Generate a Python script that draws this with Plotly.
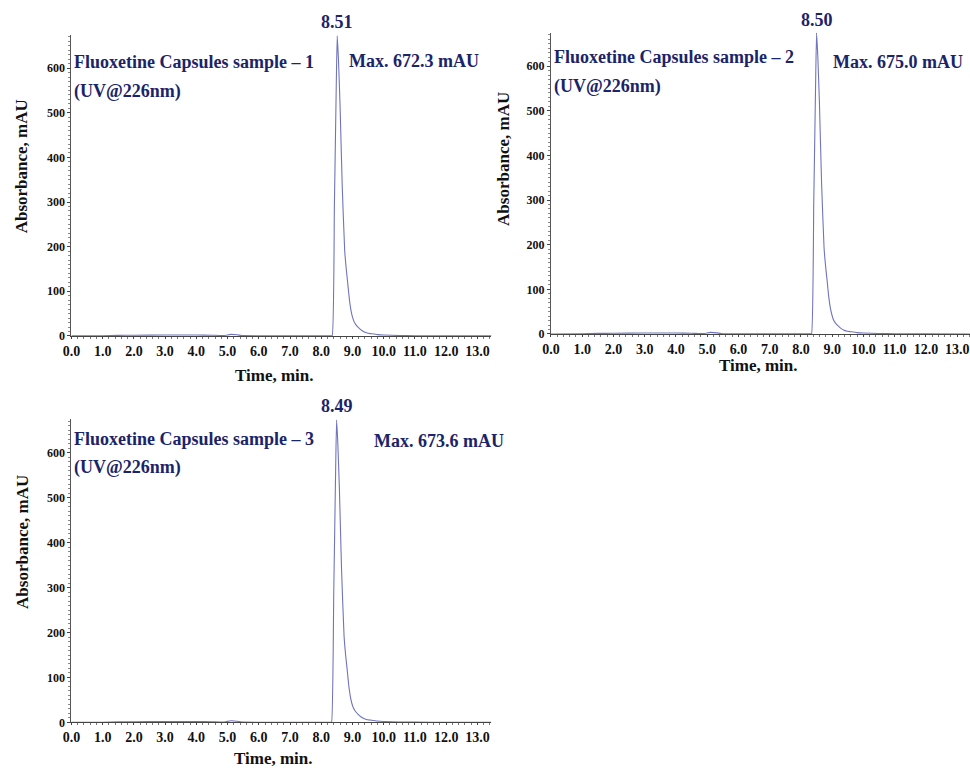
import plotly.graph_objects as go

W, H = 970, 772

# ---- data ----
time_1 = [0.0, 1.0, 1.5, 2.0, 3.0, 4.0, 4.5, 4.9, 5.1, 5.3, 5.5, 6.0, 7.0, 8.0, 8.3, 8.35,
          8.42, 8.48, 8.51, 8.55, 8.60, 8.67, 8.75, 8.80, 8.85, 8.90, 8.95, 9.0, 9.05,
          9.1, 9.2, 9.3, 9.4, 9.5, 9.6, 9.8, 10.0, 10.5, 11.0, 12.0, 13.45]
abs_1 = [0.0, 0.3, 1.2, 1.5, 2.0, 2.0, 1.5, 1.0, 3.5, 2.5, 0.6, 0.3, 0.2, 0.2, 0.2, 0.5,
         290, 560, 672.3, 620, 520, 338, 191, 150, 116, 82, 58, 42, 32,
         26, 18, 12, 8, 6, 5, 3, 2, 1, 0.5, 0.2, 0.0]

time_2 = [0.0, 1.0, 1.5, 2.0, 3.0, 4.0, 4.5, 4.9, 5.1, 5.3, 5.5, 6.0, 7.0, 8.0, 8.3, 8.34,
          8.41, 8.47, 8.50, 8.54, 8.59, 8.66, 8.74, 8.79, 8.84, 8.89, 8.94, 8.99, 9.04,
          9.09, 9.19, 9.29, 9.39, 9.49, 9.59, 9.79, 10.0, 10.5, 11.0, 12.0, 13.41]
abs_2 = [0.0, 0.3, 1.2, 1.5, 2.0, 2.0, 1.5, 1.0, 3.5, 2.5, 0.6, 0.3, 0.2, 0.2, 0.2, 0.5,
         292, 563, 675.0, 622, 522, 340, 193, 151, 118, 83, 59, 43, 32,
         26, 18, 12, 8, 6, 5, 3, 2, 1, 0.5, 0.2, 0.0]

time_3 = [0.0, 1.0, 1.5, 2.0, 3.0, 4.0, 4.5, 4.9, 5.1, 5.3, 5.5, 6.0, 7.0, 8.0, 8.3, 8.33,
          8.40, 8.46, 8.49, 8.53, 8.58, 8.65, 8.73, 8.78, 8.83, 8.88, 8.93, 8.98, 9.03,
          9.08, 9.18, 9.28, 9.38, 9.48, 9.58, 9.78, 10.0, 10.5, 11.0, 12.0, 13.45]
abs_3 = [0.0, 0.3, 1.2, 1.5, 2.0, 2.0, 1.5, 1.0, 3.5, 2.5, 0.6, 0.3, 0.2, 0.2, 0.2, 0.5,
         291, 561, 673.6, 621, 521, 339, 192, 150, 117, 82, 58, 42, 32,
         26, 18, 12, 8, 6, 5, 3, 2, 1, 0.5, 0.2, 0.0]

sample_names = ["Fluoxetine Capsules sample \u2013 1",
                "Fluoxetine Capsules sample \u2013 2",
                "Fluoxetine Capsules sample \u2013 3"]
peak_times = [8.51, 8.50, 8.49]
peak_max = [672.3, 675.0, 673.6]
x_ticks = [0, 1, 2, 3, 4, 5, 6, 7, 8, 9, 10, 11, 12, 13]
x_tick_text = ["<b>%.1f</b>" % v for v in x_ticks]
y_ticks = [0, 100, 200, 300, 400, 500, 600]
y_tick_text = ["<b>%d</b>" % v for v in y_ticks]

series = [(time_1, abs_1), (time_2, abs_2), (time_3, abs_3)]

# pixel boxes of each plot area: (left, right, top, bottom)
boxes = [(63, 487, 35, 339), (547, 970, 33, 337), (63, 487, 423, 729)]
x_ranges = [[0, 13.45], [0, 13.41], [0, 13.45]]
y_range = [0, 675]

NAVY = "#1b2468"
LINE = "#6f74bd"
FONT = "Liberation Serif"

# text placement (pixels)
name_y = [63, 58, 443]
uv_y = [92, 87, 472]
max_x = [341, 830, 366]
max_y = [62, 63, 445]
ytitle_xy = [(13, 168), (499, 160), (13, 547)]
xtitle_xy = [(268, 379), (757, 369), (267, 765)]


def px(x):
    return x / W


def py(y):
    return 1 - y / H


def bold(s):
    return "<b>" + s + "</b>"


fig = go.Figure()
annotations = []
for i, ((t, a), (l, r, tp, b)) in enumerate(zip(series, boxes)):
    n = "" if i == 0 else str(i + 1)
    fig.add_trace(go.Scatter(x=t, y=a, mode="lines",
                             line=dict(color=LINE, width=1.1, shape="spline", smoothing=0.4),
                             xaxis="x" + n, yaxis="y" + n, showlegend=False,
                             hoverinfo="x+y"))
    xa = dict(domain=[px(l), px(r)], range=x_ranges[i], anchor="y" + n,
              tickvals=x_ticks, ticktext=x_tick_text, showgrid=False, zeroline=False,
              showline=True, linecolor="#444", linewidth=1.2, ticks="outside",
              ticklen=2, tickcolor="#444",
              minor=dict(ticks="outside", ticklen=2, dtick=0.2, tickcolor="#777"),
              tickfont=dict(family=FONT, size=14, color="#111"))
    ya = dict(domain=[py(b), py(tp)], range=y_range, anchor="x" + n,
              tickvals=y_ticks, ticktext=y_tick_text, showgrid=False, zeroline=False,
              showline=True, linecolor="#555", linewidth=1, ticks="outside",
              ticklen=3, tickcolor="#444",
              minor=dict(ticks="outside", ticklen=2, dtick=10, tickcolor="#888"),
              tickfont=dict(family=FONT, size=12, color="#111"))
    fig.update_layout(**{"xaxis" + n: xa, "yaxis" + n: ya})

    xref = "x" + n
    big = dict(family=FONT, size=18, color=NAVY)
    annotations.append(dict(x=peak_times[i], y=py(tp - 13), xref=xref, yref="paper",
                            text=bold("%.2f" % peak_times[i]), showarrow=False, font=big,
                            xanchor="center", yanchor="middle"))
    annotations.append(dict(x=px(l + 1), y=py(name_y[i]), xref="paper", yref="paper",
                            text=bold(sample_names[i]), showarrow=False, font=big,
                            xanchor="left", yanchor="middle"))
    annotations.append(dict(x=px(l + 1), y=py(uv_y[i]), xref="paper", yref="paper",
                            text=bold("(UV@226nm)"), showarrow=False, font=big,
                            xanchor="left", yanchor="middle"))
    annotations.append(dict(x=px(max_x[i]), y=py(max_y[i]), xref="paper", yref="paper",
                            text=bold("Max. %.1f mAU" % peak_max[i]), showarrow=False,
                            font=big, xanchor="left", yanchor="middle"))
    annotations.append(dict(x=px(ytitle_xy[i][0]), y=py(ytitle_xy[i][1]), xref="paper",
                            yref="paper", text=bold("Absorbance, mAU"), showarrow=False,
                            textangle=-90, font=dict(family=FONT, size=17, color="#111"),
                            xanchor="center", yanchor="middle"))
    annotations.append(dict(x=px(xtitle_xy[i][0]), y=py(xtitle_xy[i][1]), xref="paper",
                            yref="paper", text=bold("Time, min."), showarrow=False,
                            font=dict(family=FONT, size=17, color="#111"),
                            xanchor="center", yanchor="middle"))

fig.update_layout(width=W, height=H, margin=dict(l=0, r=0, t=0, b=0),
                  paper_bgcolor="white", plot_bgcolor="white",
                  annotations=annotations, showlegend=False)

fig.write_html("out.html")
